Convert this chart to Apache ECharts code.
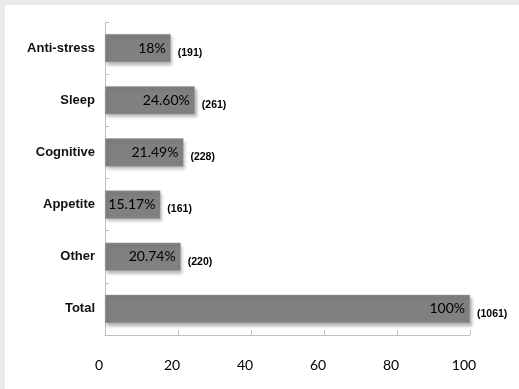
<!DOCTYPE html>
<html>
<head>
<meta charset="utf-8">
<script src="https://cdn.jsdelivr.net/npm/echarts@6/dist/echarts.min.js"></script>
<style>
  html, body { margin: 0; padding: 0; background: #ebebeb; }
  #frame { position: absolute; left: 5px; top: 5px; right: 0; bottom: 0; background: #ffffff; }
  #chart { position: absolute; left: 0; top: 0; width: 519px; height: 389px; }
</style>
</head>
<body>
<div id="frame"></div>
<div id="chart"></div>
<script>
// Share of each category (percent), with the count it represents
const categories = ['Anti-stress', 'Sleep', 'Cognitive', 'Appetite', 'Other', 'Total'];
const percentValues = [18, 24.60, 21.49, 15.17, 20.74, 100];
const percentLabels = ['18%', '24.60%', '21.49%', '15.17%', '20.74%', '100%'];
const counts = [191, 261, 228, 161, 220, 1061];
const xTicks = [0, 20, 40, 60, 80, 100];

const chart = echarts.init(document.getElementById('chart'), null, { renderer: 'canvas' });

const axisGray = '#bfbfbf';

chart.setOption({
  backgroundColor: 'transparent',
  animation: false,
  grid: { left: 105, right: 49, top: 22, bottom: 54 },
  xAxis: {
    type: 'value',
    min: xTicks[0],
    max: xTicks[xTicks.length - 1],
    interval: 20,
    axisLine: { show: true, lineStyle: { color: axisGray, width: 1 } },
    axisTick: { show: true, inside: true, length: 5, lineStyle: { color: axisGray } },
    splitLine: { show: false },
    axisLabel: {
      margin: 23,
      padding: [0, 12, 0, 0],
      color: '#000',
      fontSize: 14,
      fontFamily: 'Lato, Open Sans, sans-serif'
    }
  },
  yAxis: {
    type: 'category',
    inverse: true,
    data: categories,
    axisLine: { show: true, lineStyle: { color: axisGray, width: 1 } },
    axisTick: { show: true, inside: true, length: 4, lineStyle: { color: axisGray } },
    axisLabel: {
      margin: 10,
      color: '#111',
      fontSize: 13,
      fontWeight: 'bold',
      fontFamily: 'Liberation Sans, Arial, sans-serif'
    }
  },
  series: [
    {
      type: 'bar',
      data: percentValues,
      barCategoryGap: '46%',
      itemStyle: {
        color: '#808080',
        borderColor: '#9a9a9a',
        borderWidth: 0.5,
        shadowColor: 'rgba(0,0,0,0.28)',
        shadowBlur: 3,
        shadowOffsetX: 2,
        shadowOffsetY: 3
      },
      label: {
        show: true,
        position: 'insideRight',
        distance: 5,
        color: '#000',
        fontSize: 14,
        fontFamily: 'Lato, Open Sans, sans-serif',
        formatter: p => percentLabels[p.dataIndex]
      },
      z: 2
    },
    {
      type: 'bar',
      data: percentValues,
      barGap: '-100%',
      barCategoryGap: '46%',
      itemStyle: { color: 'rgba(0,0,0,0)' },
      label: {
        show: true,
        position: 'right',
        distance: 7,
        offset: [0, 5],
        color: '#000',
        fontSize: 10.5,
        fontWeight: 'bold',
        fontFamily: 'Liberation Sans, Arial, sans-serif',
        formatter: p => '(' + counts[p.dataIndex] + ')'
      },
      silent: true,
      z: 3
    }
  ]
});
</script>
</body>
</html>
